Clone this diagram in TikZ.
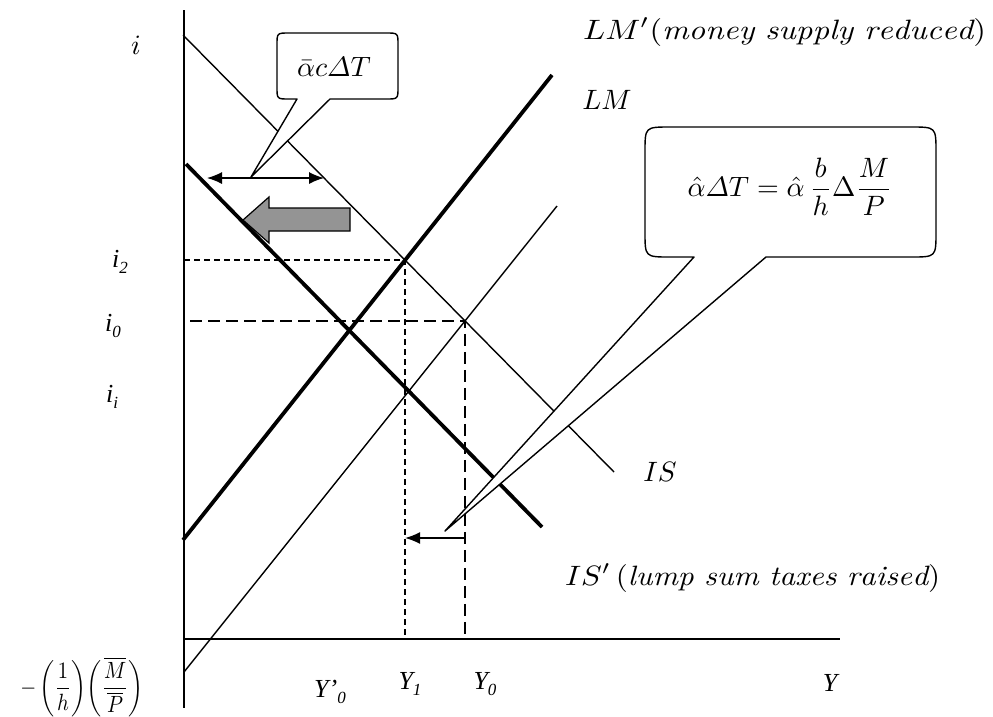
\documentclass[tikz,border=0pt]{standalone}
\usepackage{amsmath}
\usepackage{graphicx}
\usepackage{fontspec}
\newfontfamily\tms{Liberation Serif}
\usetikzlibrary{arrows.meta,intersections}
\newcommand\lowsub[1]{\raisebox{-6pt}{\fontsize{17}{17}\selectfont #1}}
\newcommand\magn[1]{\scalebox{2.8}{#1}}
\begin{document}
\begin{tikzpicture}[x=1pt,y=-1pt,
  thinline/.style={line width=1.4pt},
  thickline/.style={line width=3.8pt},
  axisline/.style={line width=1.8pt},
  shortdash/.style={line width=1.4pt,dash pattern=on 6pt off 4pt},
  longdash/.style={line width=1.4pt,dash pattern=on 12pt off 6pt},
  lbl/.style={inner sep=0pt,font=\fontsize{10}{12}\selectfont},
  tlbl/.style={inner sep=0pt,font=\tms\itshape\fontsize{26}{30}\selectfont},
  bubble/.style={line width=1.4pt,fill=white,line join=round},
  >={Latex[length=15pt,width=12pt]},
]
\useasboundingbox (0,0) rectangle (993,716);

% axes
\coordinate (yTop) at (184,10);
\coordinate (yBot) at (184,708);
\coordinate (xL) at (184,639);
\coordinate (xR) at (840,639);

% curves
\coordinate (IS1) at (183,35);   \coordinate (IS2) at (614,472);
\coordinate (ISp1) at (186,164); \coordinate (ISp2) at (542,527);
\coordinate (LM1) at (184,672);  \coordinate (LM2) at (557,206);
\coordinate (LMp1) at (183,540); \coordinate (LMp2) at (552,75);

\path[name path=IS] (IS1) -- (IS2);
\path[name path=LM] (LM1) -- (LM2);
\path[name path=LMp] (LMp1) -- (LMp2);
\path[name intersections={of=IS and LMp,by=E2}];
\path[name intersections={of=IS and LM,by=E0}];

% dashed guides
\draw[shortdash] (E2 -| yTop) -- (E2) -- (E2 |- xL);
\draw[longdash] ([xshift=6pt]E0 -| yTop) -- (E0) -- (E0 |- xL);

\draw[axisline] (yTop) -- (yBot);
\draw[axisline] (xL) -- (xR);

\draw[thinline] (IS1) -- (IS2);
\draw[thickline] (ISp1) -- (ISp2);
\draw[thinline] (LM1) -- (LM2);
\draw[thickline] (LMp1) -- (LMp2);

% gray shift arrow
\draw[line width=1.2pt,fill=black!42,line join=miter]
  (243,220) -- (269,197) -- (269,208) -- (350,208) -- (350,231) -- (269,231) -- (269,243) -- cycle;

% callout 1
\draw[bubble] (297,99) -- (251,177) -- (330,99) -- (386,99) .. controls (398,99) .. (398,87)
  -- (398,45) .. controls (398,33) .. (386,33) -- (289,33) .. controls (277,33) .. (277,45)
  -- (277,87) .. controls (277,99) .. (289,99) -- cycle;
\node[lbl] (f1) at (334,67) {\magn{$\bar{\alpha}c\varDelta T$}};

% callout 2
\draw[bubble] (694,257) -- (445,531) -- (766,257) -- (911,257) .. controls (936,257) .. (936,232)
  -- (936,152) .. controls (936,127) .. (911,127) -- (670,127) .. controls (645,127) .. (645,152)
  -- (645,232) .. controls (645,257) .. (670,257) -- cycle;
\node[lbl] (f2) at (790,187) {\magn{$\hat{\alpha}\varDelta T=\hat{\alpha}\,\dfrac{b}{h}\Delta\dfrac{M}{P}$}};

% double arrow
\coordinate (da1) at (207,178);
\coordinate (da2) at (324,178);
\draw[line width=1.3pt,<->] (da1) -- (da2);

% small arrow
\coordinate (sa1) at (E0 |- 0,538);
\coordinate (sa2) at (E2 |- 0,538);
\draw[line width=1.4pt,->] (sa1) -- (sa2);

% labels
\node[lbl] (li) at (136,45) {\magn{$i$}};
\node[lbl,anchor=west] (lLMp) at (583,32) {\scalebox{3.25}[2.8]{$LM'(\mathit{money\ supply\ reduced})$}};
\node[lbl] (lLM) at (607,100) {\magn{$LM$}};
\node[lbl] (lIS) at (660,472) {\magn{$IS$}};
\node[lbl,anchor=west] (lISp) at (565,578) {\scalebox{3.1}[2.8]{$IS'\,(\mathit{lump\ sum\ taxes\ raised})$}};

\node[tlbl] (li2) at (120,262) {i\lowsub{2}};
\node[tlbl] (li0) at (113,326) {i\lowsub{0}};
\node[tlbl] (lii) at (112,397) {i\lowsub{i}};
\node[tlbl] (lY0p) at (330,692) {Y’\lowsub{0}};
\node[tlbl] (lY1) at (410,684) {Y\lowsub{1}};
\node[tlbl] (lY0) at (485,684) {Y\lowsub{0}};
\node[tlbl] (lY) at (830,683) {Y};
\node[lbl] (lint) at (82,687)
  {\scalebox{2.05}[2.35]{$-\left(\dfrac{1}{h}\right)\!\left(\dfrac{\overline{M}}{\overline{P}}\right)$}};
\end{tikzpicture}
\end{document}
